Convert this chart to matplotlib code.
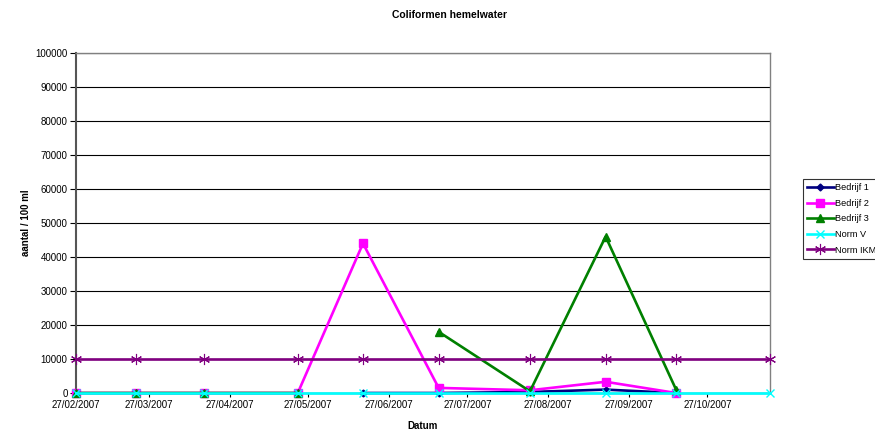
import matplotlib
matplotlib.use("Agg")
import matplotlib.pyplot as plt
import matplotlib.dates as mdates
import numpy as np
import pandas as pd

plt.rcParams['font.family'] = ['Liberation Sans', 'DejaVu Sans']

dates = pd.to_datetime([
    "2007-02-27", "2007-03-22", "2007-04-17", "2007-05-23", "2007-06-17",
    "2007-07-16", "2007-08-20", "2007-09-18", "2007-10-15", "2007-11-20",
])
nan = np.nan
bedrijf1 = [nan, nan, nan, nan, 0, 0, 300, 1000, 0, nan]
bedrijf2 = [0, 0, 0, 0, 44000, 1500, 800, 3300, 0, nan]
bedrijf3 = [0, 0, 0, 0, nan, 18000, 500, 46000, 1000, nan]
norm_v = [0, 0, 0, 0, 0, 0, 0, 0, 0, 0]
norm_ikm = [10000] * 10

tick_dates = pd.to_datetime([
    "2007-02-27", "2007-03-27", "2007-04-27", "2007-05-27", "2007-06-27",
    "2007-07-27", "2007-08-27", "2007-09-27", "2007-10-27",
])
yticks = list(range(0, 100001, 10000))

fig = plt.figure(figsize=(8.75, 4.3), dpi=100)
ax = fig.add_axes([76 / 875, 1 - 393 / 430, (770 - 76) / 875, (393 - 53) / 430])

series = [
    ("Bedrijf 1", bedrijf1, "#000080", "D", 3.5, {}),
    ("Bedrijf 2", bedrijf2, "#FF00FF", "s", 5.2, {}),
    ("Bedrijf 3", bedrijf3, "#008000", "^", 6, {}),
    ("Norm V", norm_v, "#00FFFF", "x", 5.5, {"markeredgewidth": 1.0}),
    ("Norm IKM", norm_ikm, "#800080", (6, 2, 0), 8, {"markeredgewidth": 0.8}),
]
for i, (name, vals, col, mk, ms, kw) in enumerate(series):
    ax.plot(dates, vals, color=col, lw=1.9, marker=mk, markersize=ms,
            markerfacecolor=col, markeredgecolor=col, label=name,
            zorder=3 + i, clip_on=False, **kw)

ax.set_xlim(dates[0], dates[-1])
ax.set_ylim(0, 100000)
ax.set_yticks(yticks)
ax.set_xticks(tick_dates)
ax.xaxis.set_major_formatter(mdates.DateFormatter("%d/%m/%Y"))
ax.yaxis.grid(True, color="black", lw=0.8)
ax.set_axisbelow(True)

ax.tick_params(axis="both", labelsize=7, colors="#000000", length=3, width=0.8, pad=2)
ax.tick_params(axis="y", length=4)
for s in ["top", "right"]:
    ax.spines[s].set_color("#808080")
    ax.spines[s].set_linewidth(1)
ax.spines["left"].set_color("#555555")
ax.spines["left"].set_linewidth(1.5)
ax.spines["bottom"].set_color("#555555")
ax.spines["bottom"].set_linewidth(1)

ax.set_xlabel("Datum", fontsize=7, fontweight="bold", labelpad=8)
ax.set_ylabel("aantal / 100 ml", fontsize=7, fontweight="bold", labelpad=3)
fig.text(450 / 875, 1 - 15 / 430, "Coliformen hemelwater", fontsize=7.5,
         fontweight="bold", ha="center", va="center")

leg = fig.legend(loc="upper left", bbox_to_anchor=(803 / 875, 1 - 179 / 430),
                 fontsize=6.6, frameon=True, fancybox=False, edgecolor="black",
                 handlelength=2.9, handletextpad=0.1, borderpad=0.45,
                 borderaxespad=0, labelspacing=0.72)
leg.get_frame().set_linewidth(0.8)
leg._legend_box.sep = 2

fig.savefig("out.png", dpi=100)
